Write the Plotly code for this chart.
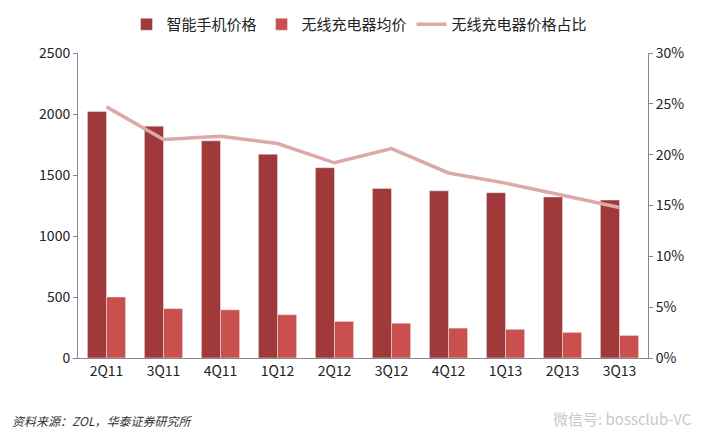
import plotly.graph_objects as go

categories = ["2Q11","3Q11","4Q11","1Q12","2Q12","3Q12","4Q12","1Q13","2Q13","3Q13"]
phone_price = [2020, 1900, 1780, 1670, 1560, 1390, 1370, 1355, 1320, 1295]
charger_price = [500, 405, 395, 355, 300, 285, 245, 235, 210, 185]
ratio = [0.247, 0.215, 0.218, 0.211, 0.192, 0.206, 0.182, 0.172, 0.160, 0.148]

font = "Noto Sans CJK SC"
fig = go.Figure()
fig.add_bar(x=categories, y=phone_price, name="智能手机价格", marker_color="#A0393A")
fig.add_bar(x=categories, y=charger_price, name="无线充电器均价", marker_color="#C9504D")
fig.add_scatter(x=categories, y=ratio, name="无线充电器价格占比", yaxis="y2",
                mode="lines", line=dict(color="#DDA9A8", width=3.5))
fig.update_layout(
    width=703, height=437, plot_bgcolor="white", paper_bgcolor="white",
    font=dict(family=font, size=14, color="#222"),
    margin=dict(l=70, r=63, t=45, b=87, autoexpand=False),
    bargap=0.33, bargroupgap=0.0,
    legend=dict(orientation="h", x=0.5, xanchor="center", xref="container",
                y=1.0, yanchor="top", yref="container",
                font=dict(size=15), traceorder="normal"),
    xaxis=dict(showline=True, linecolor="#888", ticks="", tickfont=dict(size=14)),
    yaxis=dict(range=[0, 2500], dtick=500, showgrid=False, showline=True,
               linecolor="#888", ticks="outside", ticklen=4, tickcolor="#888"),
    yaxis2=dict(range=[0, 0.30], dtick=0.05, tickformat=".0%", overlaying="y",
                side="right", showgrid=False, showline=True, linecolor="#888",
                ticks="outside", ticklen=4, tickcolor="#888"),
)
fig.add_annotation(text="<i>资料来源：ZOL，华泰证券研究所</i>", xref="paper", yref="paper",
                   x=-0.12, y=-0.24, xanchor="left", yanchor="bottom", showarrow=False,
                   font=dict(size=12, color="#333"))
fig.add_annotation(text="微信号: bossclub-VC", xref="paper", yref="paper",
                   x=1.08, y=-0.24, xanchor="right", yanchor="bottom", showarrow=False,
                   font=dict(size=15, color="#C8C8C8"))
fig.write_html("out.html")
